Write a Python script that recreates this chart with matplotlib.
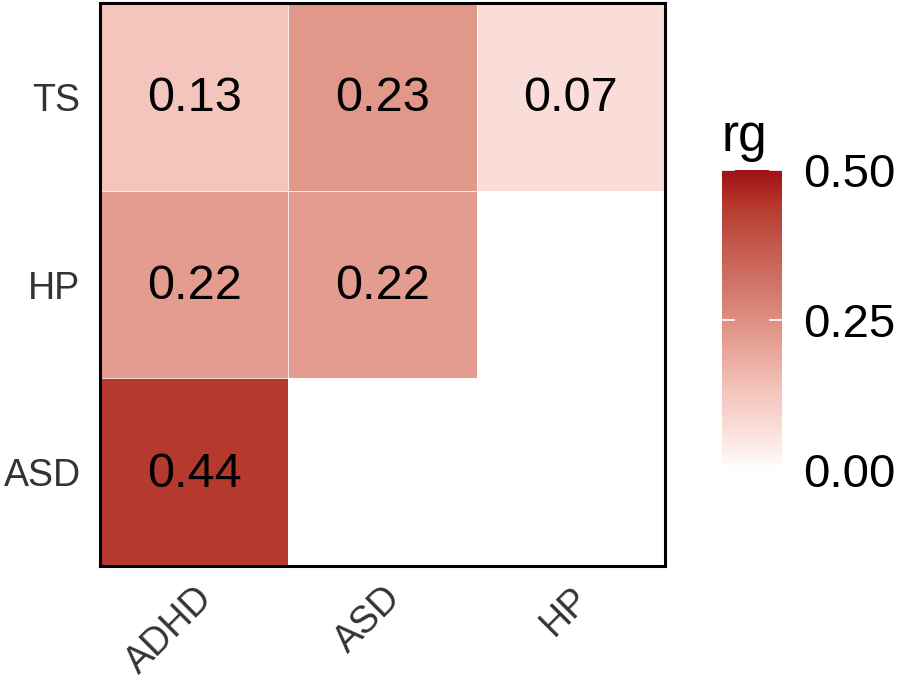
import numpy as np
import matplotlib
matplotlib.use("Agg")
import matplotlib.pyplot as plt
from matplotlib.colors import LinearSegmentedColormap

plt.rcParams['font.family'] = ['Liberation Sans', 'DejaVu Sans']

# data: rows top to bottom, columns left to right
rows = ["TS", "HP", "ASD"]
cols = ["ADHD", "ASD", "HP"]
rg_ts = [0.13, 0.23, 0.07]
rg_hp = [0.22, 0.22, np.nan]
rg_asd = [0.44, np.nan, np.nan]
cbar_ticks = [0.00, 0.25, 0.50]

vals = np.array([rg_ts, rg_hp, rg_asd])
masked = np.ma.masked_invalid(vals)

cmap = LinearSegmentedColormap.from_list("rg", [
    (0, "#ffffff"), (0.14, "#fadcd8"), (0.26, "#f3c5bd"),
    (0.46, "#e2978b"), (0.88, "#b63a2e"), (1, "#a11013")])
cmap.set_bad("white")

fig = plt.figure(figsize=(8.98, 6.84), dpi=100)
ax = fig.add_axes([0.1114, 0.1725, 0.6291, 0.8231])
mesh = ax.pcolormesh(masked, cmap=cmap, vmin=0, vmax=0.5, edgecolors="#ffffffcc", linewidth=0.5)
ax.set_xlim(0, 3)
ax.set_ylim(3, 0)

for i in range(vals.shape[0]):
    for j in range(vals.shape[1]):
        if not np.isnan(vals[i, j]):
            ax.text(j + 0.5, i + 0.51, f"{vals[i, j]:.2f}", ha="center", va="center",
                    fontsize=35, color="black")

ax.set_xticks(np.arange(3) + 0.5)
ax.set_xticklabels(cols, rotation=45, ha="right", rotation_mode="anchor", fontsize=27, color="#333333")
ax.set_yticks(np.arange(3) + 0.5)
ax.set_yticklabels(rows, fontsize=27, color="#333333")
ax.tick_params(axis="y", length=0, pad=14)
ax.tick_params(axis="x", length=0, pad=10)
for s in ax.spines.values():
    s.set_linewidth(2.2)
    s.set_color("black")

cax = fig.add_axes([0.804, 0.3129, 0.0668, 0.4386])
cb = fig.colorbar(mesh, cax=cax, ticks=cbar_ticks)
cb.outline.set_visible(False)
cb.ax.set_yticklabels([f"{t:.2f}" for t in cbar_ticks], fontsize=34)
cb.ax.tick_params(length=0, pad=15)
for t in cbar_ticks:
    cax.plot([0, 0.2], [t, t], color="white", lw=1.2, transform=cax.get_yaxis_transform())
    cax.plot([0.8, 1], [t, t], color="white", lw=1.2, transform=cax.get_yaxis_transform())
cax.set_title("rg", fontsize=37, loc="left", pad=14)

fig.savefig("out.png", dpi=100)
